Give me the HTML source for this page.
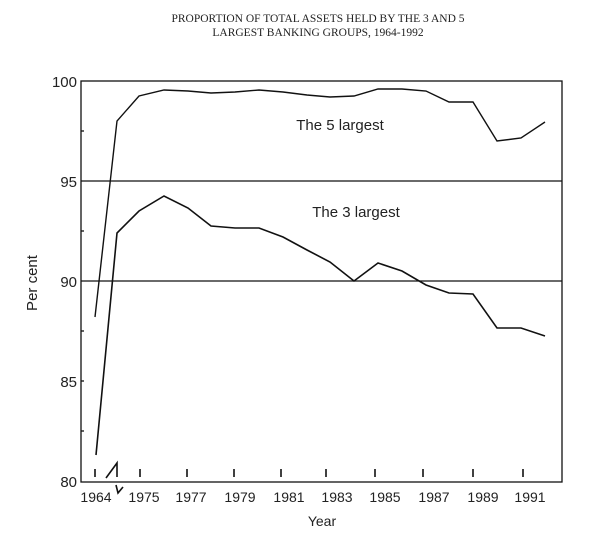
<!DOCTYPE html>
<html><head><style>body{margin:0;background:#fff}svg{display:block}</style></head><body>
<svg width="600" height="534" viewBox="0 0 600 534" xmlns="http://www.w3.org/2000/svg">
<rect width="600" height="534" fill="#fff"/>
<g font-family="Liberation Serif, serif" font-size="11.5" fill="#222" text-anchor="middle">
<text x="318" y="22">PROPORTION OF TOTAL ASSETS HELD BY THE 3 AND 5</text>
<text x="318" y="36">LARGEST BANKING GROUPS, 1964-1992</text>
</g>
<g stroke="#111" fill="none" stroke-width="1.3">
<rect x="81" y="81" width="481" height="401"/>
<line x1="81" y1="181" x2="562" y2="181"/>
<line x1="81" y1="281" x2="562" y2="281"/>
<line x1="81" y1="131" x2="84" y2="131"/><line x1="81" y1="231" x2="84" y2="231"/>
<line x1="81" y1="331" x2="84" y2="331"/><line x1="81" y1="381" x2="84" y2="381"/><line x1="81" y1="431" x2="84" y2="431"/>
<g stroke-width="1.6">
<line x1="95" y1="469" x2="95" y2="477"/><line x1="140" y1="469" x2="140" y2="477"/>
<line x1="187" y1="469" x2="187" y2="477"/><line x1="234" y1="469" x2="234" y2="477"/>
<line x1="281" y1="469" x2="281" y2="477"/><line x1="326" y1="469" x2="326" y2="477"/>
<line x1="375" y1="469" x2="375" y2="477"/><line x1="423" y1="469" x2="423" y2="477"/>
<line x1="473" y1="469" x2="473" y2="477"/><line x1="523" y1="469" x2="523" y2="477"/>
<polyline points="106,478 117,463 117,477"/>
<polyline points="116,485 118,493 123,487"/>
</g>
<polyline stroke-width="1.4" points="95,317 117,121 139,96 164,90 188,91 211,93 235,92 259,90 283,92 307,95 330,97 354,96 378,89 402,89 426,91 449,102 473,102 497,141 521,138 545,122"/>
<polyline stroke-width="1.6" points="96,455 117,233 139,211 164,196 188,208 211,226 235,228 259,228 283,237 307,250 330,262 354,281 378,263 402,271 426,285 449,293 473,294 497,328 521,328 545,336"/>
</g>
<g font-family="Liberation Sans, sans-serif" fill="#222">
<g font-size="15" text-anchor="end">
<text x="77" y="87">100</text><text x="77" y="187">95</text><text x="77" y="287">90</text>
<text x="77" y="387">85</text><text x="77" y="487">80</text>
</g>
<g font-size="14" text-anchor="middle">
<text x="96" y="502">1964</text><text x="144" y="502">1975</text><text x="191" y="502">1977</text>
<text x="240" y="502">1979</text><text x="289" y="502">1981</text><text x="337" y="502">1983</text>
<text x="385" y="502">1985</text><text x="434" y="502">1987</text><text x="483" y="502">1989</text>
<text x="530" y="502">1991</text>
<text x="322" y="526">Year</text>
</g>
<text x="340" y="130" font-size="15" text-anchor="middle">The 5 largest</text>
<text x="356" y="217" font-size="15" text-anchor="middle">The 3 largest</text>
<text x="37" y="283" font-size="15" text-anchor="middle" transform="rotate(-90 37 283)">Per cent</text>
</g>
</svg>
</body></html>
